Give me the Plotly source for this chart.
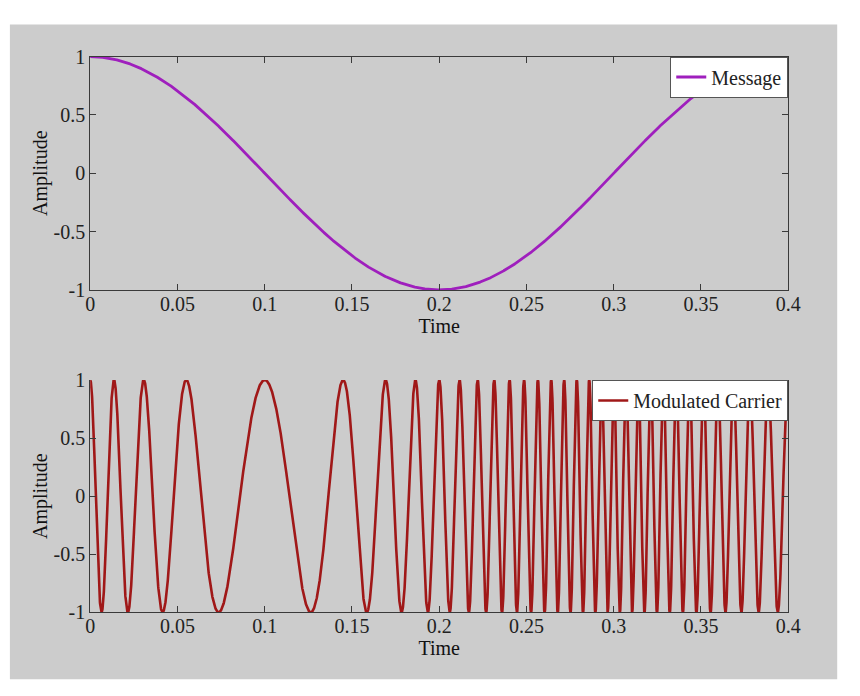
import numpy as np
import plotly.graph_objects as go

# ---- values ----
time_limits = [0.0, 0.4]
message_freq_hz = 2.5            # one full cosine period over 0 .. 0.4 s (min at 0.2)
carrier_freq_hz = 80.0           # carrier peaks line up at t = 0 and t = 0.1
phase_deviation_rad = 8 * np.pi  # slowest cycles near t = 0.1, fastest near t = 0.3

x_tick_vals = [0, 0.05, 0.1, 0.15, 0.2, 0.25, 0.3, 0.35, 0.4]
x_tick_text = ["0", "0.05", "0.1", "0.15", "0.2", "0.25", "0.3", "0.35", "0.4"]
y_tick_vals = [-1, -0.5, 0, 0.5, 1]
y_tick_text = ["-1", "-0.5", "0", "0.5", "1"]

series_names = ["Message", "Modulated Carrier"]
series_colors = ["#9f1fbd", "#a01818"]

t = np.linspace(time_limits[0], time_limits[1], 6001)
message = np.cos(2 * np.pi * message_freq_hz * t)
carrier = np.cos(2 * np.pi * carrier_freq_hz * t + phase_deviation_rad * message)

FONT = "Liberation Serif, Times New Roman, serif"
FS = 20

fig = go.Figure()
fig.add_trace(go.Scatter(x=t, y=message, mode="lines", name=series_names[0],
                         line=dict(color=series_colors[0], width=2.8),
                         xaxis="x", yaxis="y", legend="legend"))
fig.add_trace(go.Scatter(x=t, y=carrier, mode="lines", name=series_names[1],
                         line=dict(color=series_colors[1], width=2.6),
                         xaxis="x2", yaxis="y2", legend="legend2"))

W, H = 860, 696
xd = [87 / W, 800 / W]
yd_top = [1 - 288 / H, 1 - 47 / H]
yd_bot = [1 - 621 / H, 1 - 381 / H]

axis_common = dict(showline=True, linecolor="#3a3a3a", linewidth=1,
                   ticks="inside", ticklen=6, tickcolor="#3a3a3a", showgrid=False,
                   zeroline=False, tickfont=dict(family=FONT, size=FS, color="#222"))

xa = dict(axis_common, range=time_limits, tickmode="array", tickvals=x_tick_vals,
          ticktext=x_tick_text, domain=xd, ticklabelstandoff=-4,
          title=dict(text="Time", font=dict(family=FONT, size=FS, color="#111"), standoff=0))
ya = dict(axis_common, range=[-1, 1], tickmode="array", tickvals=y_tick_vals,
          ticktext=y_tick_text, mirror="ticks",
          title=dict(text="Amplitude", font=dict(family=FONT, size=FS, color="#111"), standoff=0))

legend_common = dict(bgcolor="white", bordercolor="#555", borderwidth=1,
                     font=dict(family=FONT, size=FS, color="#222"),
                     xanchor="right", yanchor="top", x=xd[1],
                     itemwidth=30, tracegroupgap=0)

fig.update_layout(
    width=W, height=H,
    margin=dict(l=0, r=0, t=0, b=0),
    paper_bgcolor="white",
    plot_bgcolor="white",
    showlegend=True,
    xaxis=dict(xa, anchor="y", mirror="ticks"),
    yaxis=dict(ya, domain=yd_top, anchor="x"),
    xaxis2=dict(xa, anchor="y2", mirror=False),
    yaxis2=dict(ya, domain=yd_bot, anchor="x2"),
    legend=dict(legend_common, y=yd_top[1]),
    legend2=dict(legend_common, y=yd_bot[1]),
    shapes=[dict(type="rect", xref="paper", yref="paper", layer="below",
                 x0=5 / W, x1=850 / W, y0=1 - 690 / H, y1=1 - 14 / H,
                 fillcolor="#cccccc", line=dict(width=0))],
)

fig.write_html("out.html",
               config={"displayModeBar": False},
               post_script="document.body.style.margin='0';document.body.style.overflow='hidden';")
